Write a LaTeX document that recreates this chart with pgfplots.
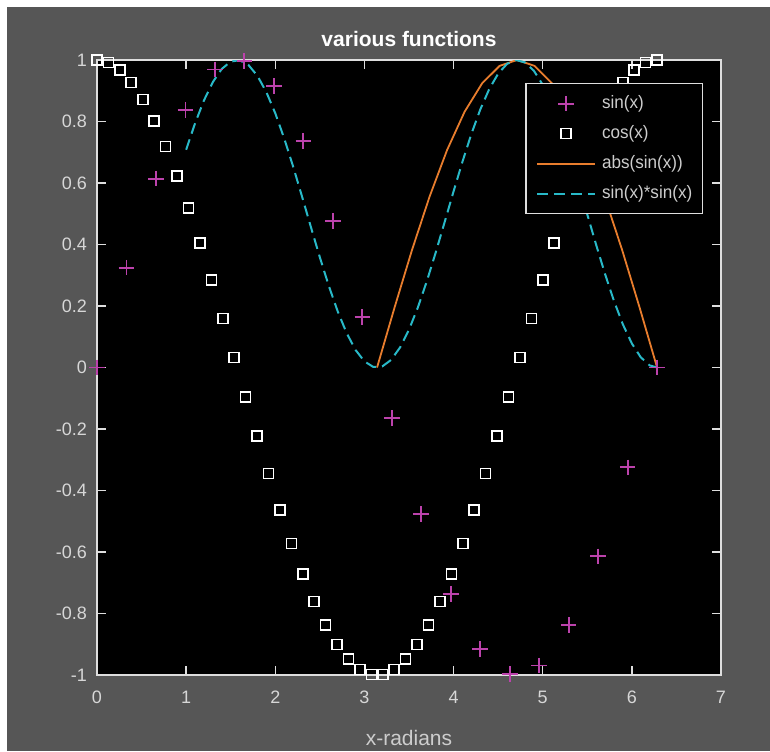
\documentclass[border=0pt]{standalone}
\usepackage{pgfplots}
\pgfplotsset{compat=1.18}
\usepackage{fontspec}
\setmainfont{Liberation Sans}
\newfontfamily\legfont{Liberation Sans}[FakeStretch=0.95]
\definecolor{figbg}{RGB}{86,86,86}
\definecolor{axiscol}{RGB}{222,222,222}
\definecolor{tickcol}{RGB}{215,215,215}
\definecolor{labcol}{RGB}{205,205,205}
\definecolor{sincol}{RGB}{188,66,172}
\definecolor{abscol}{RGB}{232,125,45}
\definecolor{sqcol}{RGB}{40,185,200}
\begin{document}
\begin{tikzpicture}
\fill[white] (-48.5pt,-38pt) rectangle (336.5pt,337.5pt);
\fill[figbg] (-45pt,-38pt) rectangle (336.5pt,334pt);
\begin{axis}[
  scale only axis,
  width=312pt, height=307.5pt,
  xmin=0, xmax=7, ymin=-1, ymax=1,
  axis background/.style={fill=black},
  axis line style={axiscol, line width=0.75pt},
  tick style={axiscol, line width=0.75pt},
  major tick length=4.5pt,
  tick align=inside,
  xtick={0,1,2,3,4,5,6,7},
  xticklabels={0,1,2,3,4,5,6,7},
  ytick={-1,-0.8,-0.6,-0.4,-0.2,0,0.2,0.4,0.6,0.8,1},
  yticklabels={-1,-0.8,-0.6,-0.4,-0.2,0,0.2,0.4,0.6,0.8,1},
  ticklabel style={font=\fontsize{9}{11}\selectfont, text=tickcol},
  xticklabel style={yshift=-4.5pt},
  yticklabel style={xshift=-1.5pt},
  title={various functions},
  every axis title/.style={font=\fontsize{10.5}{12}\selectfont\bfseries, text=white,
    at={(axis description cs:0.5,1)}, anchor=base, yshift=6.8pt},
  xlabel={x-radians},
  xlabel style={font=\fontsize{10.5}{12}\selectfont, text=labcol,
    at={(axis description cs:0.5,0)}, anchor=base, yshift=-35pt},
  legend image code/.code={\draw[mark repeat=2,mark phase=2,#1]
    plot coordinates {(0pt,0pt) (14.5pt,0pt) (29pt,0pt)};},
  legend style={at={(0.971,0.9626)}, anchor=north east,
    fill=black, draw=axiscol, line width=0.6pt, text=labcol,
    font=\legfont\fontsize{9}{11}\selectfont,
    inner xsep=5pt, inner ysep=5.5pt, row sep=6pt,
    nodes={inner sep=0pt, text height=7pt, text depth=2pt},
    /tikz/every odd column/.append style={column sep=3pt}},
  legend cell align=left,
]
% sin(x), 20 samples
\addplot[only marks, mark=+, mark size=3.9pt, sincol, line width=0.9pt] coordinates {
(0.0000,0.0000) (0.3307,0.3247) (0.6614,0.6142) (0.9921,0.8372) (1.3228,0.9694)
(1.6535,0.9966) (1.9842,0.9158) (2.3149,0.7357) (2.6456,0.4759) (2.9762,0.1646)
(3.3069,-0.1646) (3.6376,-0.4759) (3.9683,-0.7357) (4.2990,-0.9158) (4.6297,-0.9966)
(4.9604,-0.9694) (5.2911,-0.8372) (5.6218,-0.6142) (5.9525,-0.3247) (6.2832,0.0000)
};
\addlegendentry{sin(x)}
% cos(x), 50 samples
\addplot[only marks, mark=square, mark size=2.5pt, white, line width=0.8pt] coordinates {
(0.0000,1.0000) (0.1282,0.9918) (0.2565,0.9673) (0.3847,0.9269) (0.5129,0.8713)
(0.6411,0.8014) (0.7694,0.7183) (0.8976,0.6235) (1.0258,0.5184) (1.1541,0.4048)
(1.2823,0.2846) (1.4105,0.1596) (1.5387,0.0320) (1.6670,-0.0960) (1.7952,-0.2225)
(1.9234,-0.3453) (2.0516,-0.4625) (2.1799,-0.5721) (2.3081,-0.6723) (2.4363,-0.7614)
(2.5646,-0.8380) (2.6928,-0.9008) (2.8210,-0.9487) (2.9492,-0.9815) (3.0775,-0.9979)
(3.2057,-0.9979) (3.3339,-0.9815) (3.4621,-0.9487) (3.5904,-0.9008) (3.7186,-0.8380)
(3.8468,-0.7614) (3.9751,-0.6723) (4.1033,-0.5721) (4.2315,-0.4625) (4.3597,-0.3453)
(4.4880,-0.2225) (4.6162,-0.0960) (4.7444,0.0320) (4.8727,0.1596) (5.0009,0.2846)
(5.1291,0.4048) (5.2573,0.5184) (5.3856,0.6235) (5.5138,0.7183) (5.6420,0.8014)
(5.7703,0.8713) (5.8985,0.9269) (6.0267,0.9673) (6.1549,0.9918) (6.2832,1.0000)
};
\addlegendentry{cos(x)}
% abs(sin(x)) on [pi, 2pi]
\addplot[no markers, abscol, line width=0.9pt] coordinates {
(3.1416,0.0000) (3.3379,0.1951) (3.5343,0.3827) (3.7306,0.5556) (3.9270,0.7071)
(4.1233,0.8315) (4.3197,0.9239) (4.5160,0.9808) (4.7124,1.0000) (4.9087,0.9808)
(5.1051,0.9239) (5.3014,0.8315) (5.4978,0.7071) (5.6941,0.5556) (5.8905,0.3827)
(6.0868,0.1951) (6.2832,0.0000)
};
\addlegendentry{abs(sin(x))}
% sin(x)*sin(x) on [1, 2pi]
\addplot[no markers, sqcol, line width=1pt, dash pattern=on 5.5pt off 3pt] coordinates {
(1.0,0.7081) (1.1,0.7943) (1.2,0.8687) (1.3,0.9285) (1.4,0.9711) (1.5,0.9950)
(1.6,0.9992) (1.7,0.9834) (1.8,0.9484) (1.9,0.8955) (2.0,0.8268) (2.1,0.7451)
(2.2,0.6537) (2.3,0.5561) (2.4,0.4563) (2.5,0.3582) (2.6,0.2657) (2.7,0.1827)
(2.8,0.1122) (2.9,0.0572) (3.0,0.0199) (3.1,0.0017) (3.2,0.0034) (3.3,0.0249)
(3.4,0.0653) (3.5,0.1231) (3.6,0.1958) (3.7,0.2807) (3.8,0.3744) (3.9,0.4731)
(4.0,0.5728) (4.1,0.6696) (4.2,0.7597) (4.3,0.8394) (4.4,0.9055) (4.5,0.9555)
(4.6,0.9875) (4.7,0.9998) (4.8,0.9924) (4.9,0.9653) (5.0,0.9195) (5.1,0.8571)
(5.2,0.7806) (5.3,0.6927) (5.4,0.5972) (5.5,0.4977) (5.6,0.3985) (5.7,0.3033)
(5.8,0.2159) (5.9,0.1398) (6.0,0.0781) (6.1,0.0332) (6.2,0.0069) (6.2832,0.0000)
};
\addlegendentry{sin(x)*sin(x)}
\end{axis}
\pgfresetboundingbox
\useasboundingbox (-48.5pt,-38pt) rectangle (336.5pt,337.5pt);
\end{tikzpicture}
\end{document}
